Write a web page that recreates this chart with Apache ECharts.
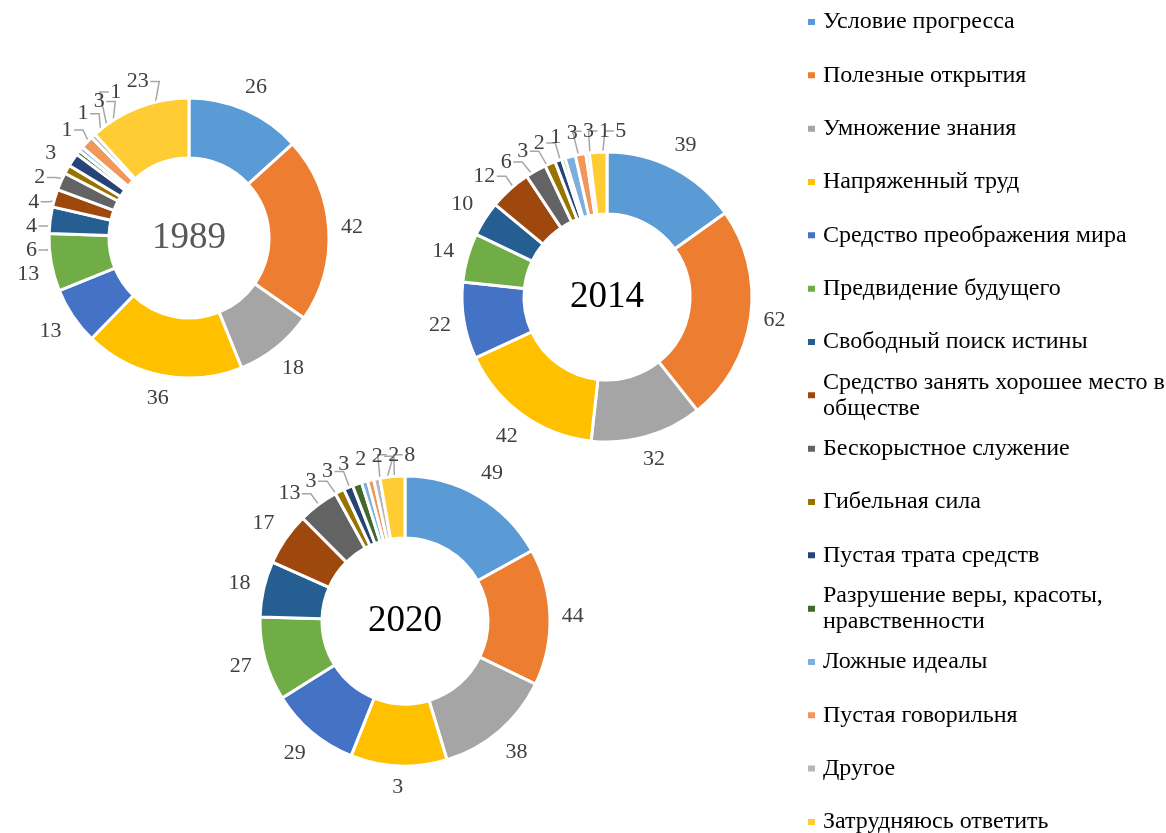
<!DOCTYPE html>
<html>
<head>
<meta charset="utf-8">
<script src="https://cdn.jsdelivr.net/npm/echarts@6/dist/echarts.min.js"></script>
<style>
html,body{margin:0;padding:0;background:#fff;}
#chart{width:1166px;height:833px;}
</style>
</head>
<body>
<div id="chart"></div>
<script>
const categories = [
  'Условие прогресса',
  'Полезные открытия',
  'Умножение знания',
  'Напряженный труд',
  'Средство преображения мира',
  'Предвидение будущего',
  'Свободный поиск истины',
  'Средство занять хорошее место в обществе',
  'Бескорыстное служение',
  'Гибельная сила',
  'Пустая трата средств',
  'Разрушение веры, красоты, нравственности',
  'Ложные идеалы',
  'Пустая говорильня',
  'Другое',
  'Затрудняюсь ответить'
];
const colors = ['#5B9BD5','#ED7D31','#A5A5A5','#FFC000','#4472C4','#70AD47','#255E91','#9E480E',
                '#636363','#997300','#264478','#43682B','#7CAFDD','#F1975A','#B7B7B7','#FFCD33'];
const years = ['1989', '2014', '2020'];
const values1989 = [26, 42, 18, 36, 13, 13, 6, 4, 4, 2, 3, 1, 1, 3, 1, 23];
const values2014 = [39, 62, 32, 42, 22, 14, 10, 12, 6, 3, 2, 1, 3, 3, 1, 5];
const values2020 = [49, 44, 38, 31, 29, 27, 18, 17, 13, 3, 3, 3, 2, 2, 2, 8];
// labels as printed in the source (the 2020 "Напряженный труд" label reads "3")
const labels2020 = ['49','44','38','3','29','27','18','17','13','3','3','3','2','2','2','8'];

const FONT = 'Liberation Serif';
const pies = [
  {year: years[0], values: values1989, labels: values1989.map(String), center: [189, 238], radius: [80, 140], titleColor: '#595959'},
  {year: years[1], values: values2014, labels: values2014.map(String), center: [607, 297], radius: [83, 145], titleColor: '#000000'},
  {year: years[2], values: values2020, labels: labels2020, center: [405, 621], radius: [83, 145], titleColor: '#000000'}
];

// Excel-like "best fit" label placement: labels just outside the ring,
// spread along the circle where they would collide, with leader lines
// into the slice for labels that had to be moved.
function layoutLabels(p) {
  const GAP = 9, CH = 11, H = 24;
  const [cx, cy] = p.center, rIn = p.radius[0], rOut = p.radius[1];
  const total = p.values.reduce((a, b) => a + b, 0);
  let cum = 0;
  const items = p.values.map((v, i) => {
    const mid = (cum + v / 2) / total * Math.PI * 2; cum += v;
    return {i, mid, ang: mid, w: p.labels[i].length * CH + 5, h: H};
  });
  const pos = (it) => {
    const s = Math.sin(it.ang), c = Math.cos(it.ang);
    const ext = Math.abs(s) * it.w / 2 + Math.abs(c) * it.h / 2;
    const r = rOut + GAP + ext;
    return [cx + r * s, cy - r * c];
  };
  const step = 0.004;
  for (let iter = 0; iter < 3000; iter++) {
    let moved = false;
    for (let k = 0; k < items.length; k++) {
      const a = items[k], b = items[(k + 1) % items.length];
      const pa = pos(a), pb = pos(b);
      if (Math.abs(pa[0] - pb[0]) < (a.w + b.w) / 2 && Math.abs(pa[1] - pb[1]) < (a.h + b.h) / 2) {
        a.ang -= step; b.ang += step; moved = true;
      }
    }
    if (!moved) break;
  }
  return items.map(it => {
    const [x, y] = pos(it);
    const rm = (rIn + rOut) / 2;
    const tx = cx + rm * Math.sin(it.mid), ty = cy - rm * Math.cos(it.mid);
    let line;
    if (Math.abs(it.ang - it.mid) > 0.05) {
      const dir = tx >= x ? 1 : -1;
      const p0 = [x + dir * (it.w / 2 - 1), y];
      const p1 = [p0[0] + dir * 9, y];
      line = [p0, p1, [tx, ty]];
    } else {
      line = [[x, y], [x, y], [x, y]];
    }
    return {x, y, line};
  });
}
const layouts = pies.map(layoutLabels);

const series = pies.map((p, si) => ({
  type: 'pie',
  center: p.center,
  radius: p.radius,
  startAngle: 90,
  clockwise: true,
  minShowLabelAngle: 0,
  avoidLabelOverlap: false,
  silent: true,
  data: categories.map((c, i) => ({name: c, value: p.values[i]})),
  itemStyle: {borderColor: '#ffffff', borderWidth: 3},
  label: {
    show: true,
    position: 'outside',
    formatter: d => p.labels[d.dataIndex],
    color: '#404040',
    fontFamily: FONT,
    fontSize: 22
  },
  labelLine: {
    show: true,
    length: 10,
    length2: 5,
    lineStyle: {color: '#A6A6A6', width: 1.5}
  },
  labelLayout: params => {
    const L = layouts[si][params.dataIndex];
    return {x: L.x, y: L.y, align: 'center', verticalAlign: 'middle', labelLinePoints: L.line};
  }
}));

const titles = pies.map(p => ({
  text: p.year,
  left: p.center[0],
  top: p.center[1],
  textAlign: 'center',
  textVerticalAlign: 'middle',
  padding: 0,
  textStyle: {fontFamily: FONT, fontSize: 37, fontWeight: 'normal', color: p.titleColor}
}));

const legendY0 = 22, legendStep = 53.33, lineH = 26;
const wrapAfter = {
  'Средство занять хорошее место в обществе': 'Средство занять хорошее место в\nобществе',
  'Разрушение веры, красоты, нравственности': 'Разрушение веры, красоты,\nнравственности'
};
const legends = categories.map((c, i) => {
  const y = legendY0 + i * legendStep;
  const tl = !!wrapAfter[c];
  return {
    data: [c],
    orient: 'vertical',
    left: 806,
    top: tl ? y - 1.5 * lineH : y - lineH / 2,
    padding: 0,
    itemWidth: 9,
    itemHeight: 8,
    itemGap: 0,
    icon: 'rect',
    selectedMode: false,
    formatter: n => wrapAfter[n] || n,
    textStyle: {
      fontFamily: FONT, fontSize: 24, color: '#000000', lineHeight: lineH,
      padding: tl ? [lineH, 0, 0, 2] : [0, 0, 0, 2]
    }
  };
});

const chart = echarts.init(document.getElementById('chart'));
chart.setOption({
  backgroundColor: '#ffffff',
  animation: false,
  color: colors,
  title: titles,
  legend: legends,
  series: series
});
</script>
</body>
</html>
